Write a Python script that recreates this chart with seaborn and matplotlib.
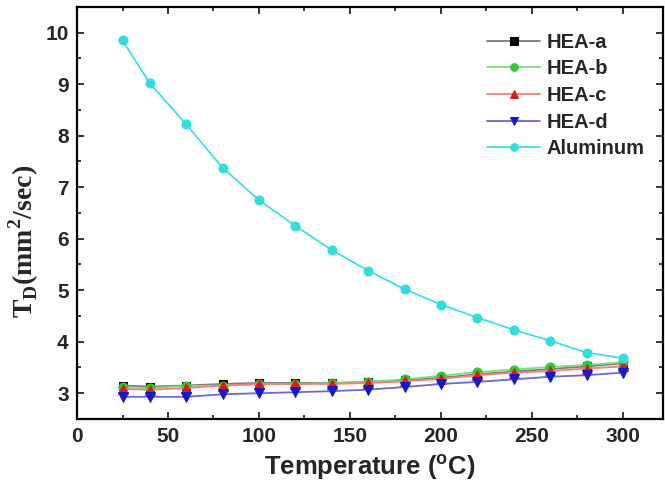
import matplotlib
matplotlib.use("Agg")
import matplotlib.pyplot as plt
import seaborn as sns
import pandas as pd
from matplotlib.ticker import MultipleLocator

temperature = [25, 40, 60, 80, 100, 120, 140, 160, 180, 200, 220, 240, 260, 280, 300]
hea_a = [3.15, 3.13, 3.15, 3.18, 3.20, 3.20, 3.20, 3.22, 3.25, 3.30, 3.37, 3.42, 3.47, 3.52, 3.58]
hea_b = [3.12, 3.10, 3.14, 3.15, 3.17, 3.18, 3.20, 3.22, 3.27, 3.34, 3.41, 3.46, 3.51, 3.55, 3.60]
hea_c = [3.08, 3.07, 3.10, 3.15, 3.18, 3.18, 3.18, 3.20, 3.23, 3.28, 3.35, 3.40, 3.43, 3.48, 3.52]
hea_d = [2.93, 2.93, 2.93, 2.98, 3.00, 3.02, 3.04, 3.07, 3.12, 3.18, 3.22, 3.27, 3.32, 3.35, 3.40]
aluminum = [9.85, 9.02, 8.22, 7.38, 6.75, 6.25, 5.78, 5.38, 5.02, 4.72, 4.47, 4.23, 4.02, 3.79, 3.68]

series_names = ["HEA-a", "HEA-b", "HEA-c", "HEA-d", "Aluminum"]
series_values = [hea_a, hea_b, hea_c, hea_d, aluminum]

styles = {
    "HEA-a": dict(color="#7a7a7a", marker="s", mfc="#000000", mec="#000000", ms=6),
    "HEA-b": dict(color="#7fdc7f", marker="o", mfc="#2ecc2e", mec="#2ecc2e", ms=6.5),
    "HEA-c": dict(color="#f08080", marker="^", mfc="#e01818", mec="#e01818", ms=7),
    "HEA-d": dict(color="#6a6ad0", marker="v", mfc="#1818c8", mec="#1818c8", ms=7),
    "Aluminum": dict(color="#40e0e0", marker="o", mfc="#30dede", mec="#30dede", ms=6.5),
}

rows = []
for name, vals in zip(series_names, series_values):
    for t, v in zip(temperature, vals):
        rows.append({"Temperature": t, "TD": v, "Series": name})
df = pd.DataFrame(rows)

sns.set_style("ticks")
plt.rcParams["font.family"] = ["Liberation Sans", "DejaVu Sans"]

fig = plt.figure(figsize=(6.65, 4.86), dpi=100)
ax = fig.add_axes([0.1158, 0.1379, 0.997 - 0.1158, 0.9856 - 0.1379])

for name in series_names:
    st = styles[name]
    sns.lineplot(data=df[df["Series"] == name], x="Temperature", y="TD", ax=ax,
                 color=st["color"], marker=st["marker"], markerfacecolor=st["mfc"],
                 markeredgecolor=st["mec"], markersize=st["ms"], linewidth=1.3,
                 label=name, errorbar=None)

ax.set_xlim(0, 322)
ax.set_ylim(2.5, 10.5)
ax.xaxis.set_major_locator(MultipleLocator(50))
ax.xaxis.set_minor_locator(MultipleLocator(25))
ax.yaxis.set_major_locator(MultipleLocator(1))
ax.yaxis.set_minor_locator(MultipleLocator(0.5))

ax.tick_params(which="both", direction="in", top=True, right=True, width=1.3)
ax.tick_params(which="major", length=5, labelsize=15, pad=6)
ax.tick_params(which="minor", length=3)
for lab in ax.get_xticklabels() + ax.get_yticklabels():
    lab.set_fontweight("bold")
for sp in ax.spines.values():
    sp.set_linewidth(1.6)
    sp.set_color("black")

ax.set_xlabel(r"Temperature ($^\mathregular{o}$C)", fontsize=18.5, fontweight="bold", labelpad=4)
ax.set_ylabel(r"T$_\mathregular{D}$(mm$^\mathregular{2}$/sec)", fontsize=20, fontweight="bold",
              family=["Liberation Serif", "DejaVu Serif"])
ax.yaxis.set_label_coords(-0.062, 0.43)

leg = ax.legend(loc="upper right", frameon=False, fontsize=14.5, handlelength=2.6,
                handletextpad=0.35, labelspacing=0.38, borderaxespad=0.3, numpoints=1,
                markerscale=0.85, bbox_to_anchor=(0.993, 0.972))
for t in leg.get_texts():
    t.set_fontweight("bold")

fig.savefig("out.png", dpi=100)
